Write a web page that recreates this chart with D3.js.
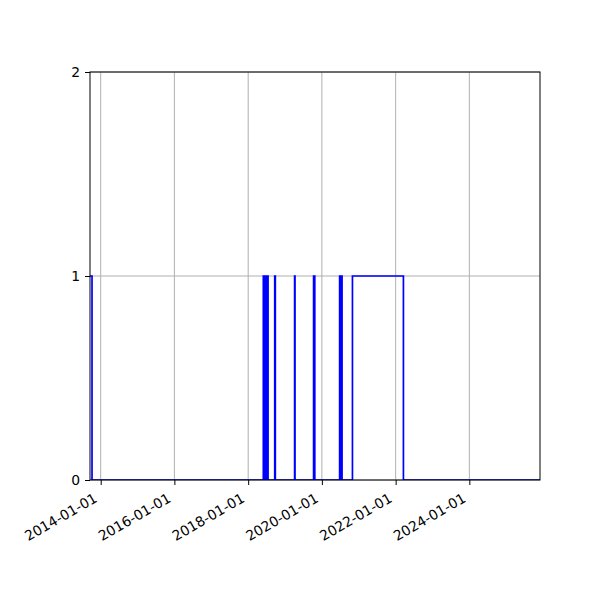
<!DOCTYPE html>
<html>
<head>
<meta charset="utf-8">
<script src="https://cdn.jsdelivr.net/npm/d3@7"></script>
<style>
  body { margin: 0; background: #fff; }
  text { font-family: "DejaVu Sans", sans-serif; }
</style>
</head>
<body>
<div id="chart"></div>
<script>
// periods where the value is 1 (step function, 0 elsewhere)
var onStarts = [
    "2013-09-17",
    "2018-05-31", "2018-06-10", "2018-06-20", "2018-06-30", "2018-07-10",
    "2018-09-21",
    "2019-04-06",
    "2019-10-11",
    "2020-06-25", "2020-07-05", "2020-07-14",
    "2020-10-30"];
var onEnds = [
    "2013-10-07",
    "2018-06-05", "2018-06-15", "2018-06-25", "2018-07-05", "2018-07-17",
    "2018-09-27",
    "2019-04-10",
    "2019-10-23",
    "2020-06-30", "2020-07-10", "2020-07-19",
    "2022-03-19"];

var xLimits = ["2013-09-17", "2025-12-01"];
var xTicks = ["2014-01-01", "2016-01-01", "2018-01-01", "2020-01-01", "2022-01-01", "2024-01-01"];
var yTicks = [0, 1, 2];

var width = 600,
    height = 600,
    margin = {top: 72, right: 60, bottom: 120, left: 90};

var parse = d3.utcParse("%Y-%m-%d");
var fmt = d3.utcFormat("%Y-%m-%d");

var x = d3.scaleUtc()
    .domain(xLimits.map(parse))
    .range([margin.left, width - margin.right]);

var y = d3.scaleLinear()
    .domain([0, 2])
    .range([height - margin.bottom, margin.top]);

// build the step series from the on/off periods
var points = [];
onStarts.forEach(function(s, i) {
    points.push([parse(s), 1]);
    points.push([parse(onEnds[i]), 0]);
});
points.push([parse(xLimits[1]), 0]);

var svg = d3.select("#chart").append("svg")
    .attr("width", width)
    .attr("height", height);

svg.append("defs").append("clipPath")
    .attr("id", "clip")
  .append("rect")
    .attr("x", margin.left)
    .attr("y", margin.top)
    .attr("width", width - margin.left - margin.right)
    .attr("height", height - margin.top - margin.bottom);

// grid
var grid = svg.append("g");
grid.selectAll(".vg")
    .data(xTicks.map(parse))
    .enter().append("line")
    .attr("x1", function(d) { return x(d); })
    .attr("x2", function(d) { return x(d); })
    .attr("y1", margin.top)
    .attr("y2", height - margin.bottom)
    .attr("stroke", "#b0b0b0")
    .attr("stroke-width", 1);
grid.selectAll(".hg")
    .data(yTicks)
    .enter().append("line")
    .attr("x1", margin.left)
    .attr("x2", width - margin.right)
    .attr("y1", function(d) { return y(d); })
    .attr("y2", function(d) { return y(d); })
    .attr("stroke", "#b0b0b0")
    .attr("stroke-width", 1);

var line = d3.line()
    .x(function(d) { return x(d[0]); })
    .y(function(d) { return y(d[1]); })
    .curve(d3.curveStepAfter);

svg.append("path")
    .datum(points)
    .attr("clip-path", "url(#clip)")
    .attr("d", line)
    .attr("fill", "none")
    .attr("stroke", "#0000ff")
    .attr("stroke-width", 1.7);

// axes
var xAxis = svg.append("g")
    .attr("transform", "translate(0," + (height - margin.bottom) + ")")
    .call(d3.axisBottom(x)
        .tickValues(xTicks.map(parse))
        .tickFormat(fmt)
        .tickSize(5)
        .tickSizeOuter(0));

xAxis.selectAll("text")
    .attr("font-size", "13.9px")
    .attr("fill", "#000")
    .attr("text-anchor", "end")
    .attr("dy", null)
    .attr("y", 0)
    .attr("transform", "translate(-3,21) rotate(-30)");

var yAxis = svg.append("g")
    .attr("transform", "translate(" + margin.left + ",0)")
    .call(d3.axisLeft(y)
        .tickValues(yTicks)
        .tickFormat(d3.format("d"))
        .tickSize(5)
        .tickSizeOuter(0)
        .tickPadding(5));

yAxis.selectAll("text")
    .attr("font-size", "13.9px")
    .attr("fill", "#000");

svg.selectAll(".domain").remove();
svg.selectAll(".tick line").attr("stroke", "#000").attr("stroke-width", 1);

// frame
svg.append("rect")
    .attr("x", margin.left)
    .attr("y", margin.top)
    .attr("width", width - margin.left - margin.right)
    .attr("height", height - margin.top - margin.bottom)
    .attr("fill", "none")
    .attr("stroke", "#000")
    .attr("stroke-width", 1);
</script>
</body>
</html>
